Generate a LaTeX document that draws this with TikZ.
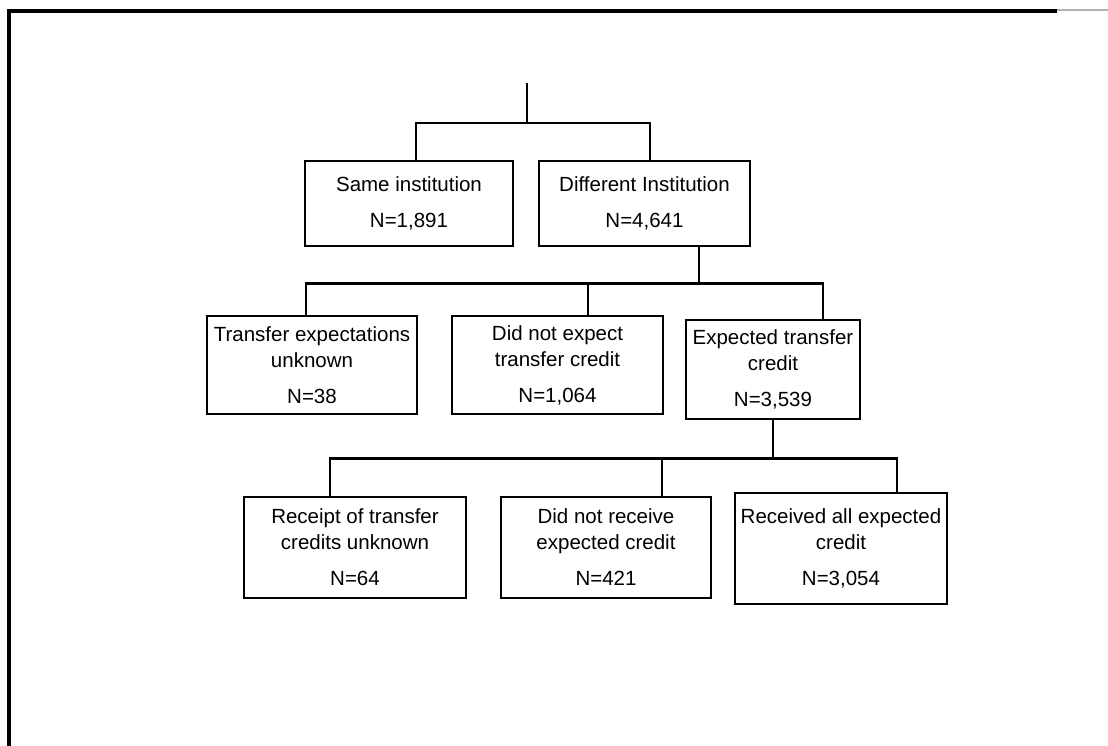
\documentclass[tikz,border=0pt]{standalone}
\usepackage{fontspec}
\setmainfont{Liberation Sans}
\begin{document}
\begin{tikzpicture}[x=1pt,y=-1pt,line width=2.8pt,
        box/.style={draw,align=center,inner sep=0pt,font=\fontsize{20.5}{26}\selectfont}]
        \useasboundingbox (0,0) rectangle (1108,746);
        \draw[line width=3.5pt] (1057,11) -- (9,11) -- (9,746);
        \draw[gray!60,line width=1.5pt] (1057,10) -- (1108,10);
        \node[box,minimum width=208,minimum height=85] (same) at (409,203.5) {Same institution\\[10pt]N=1,891};
        \node[box,minimum width=211,minimum height=85] (diff) at (644.5,203.5) {Different Institution\\[10pt]N=4,641};
        \node[box,minimum width=210,minimum height=98] (unk) at (312,365) {Transfer expectations\\unknown\\[10pt]N=38};
        \node[box,minimum width=211,minimum height=98] (noexp) at (557.5,365) {Did not expect\\transfer credit\\[10pt]N=1,064};
        \node[box,minimum width=174,minimum height=99] (exp) at (773,369.5) {Expected transfer\\credit\\[10pt]N=3,539};
        \node[box,minimum width=222,minimum height=101] (recunk) at (355,547.5) {Receipt of transfer\\credits unknown\\[10pt]N=64};
        \node[box,minimum width=210,minimum height=101] (norec) at (606,547.5) {Did not receive\\expected credit\\[10pt]N=421};
        \node[box,minimum width=212,minimum height=111] (recall) at (841,548.5) {Received all expected\\credit\\[10pt]N=3,054};
        \coordinate (top) at (527,83);
        \draw (top) -- ++(0,40) coordinate (j1);
        \draw ([xshift=7]same.north) |- (j1) -| ([xshift=5.5]diff.north);
        \draw ([xshift=54.5]diff.south) -- ++(0,36) coordinate (j2);
        \draw ([xshift=-6]unk.north) |- (j2) -| ([xshift=50]exp.north);
        \coordinate (noexpin) at ([xshift=30.5]noexp.north);
        \draw (noexpin) -- (noexpin |- j2);
        \draw (exp.south) -- ++(0,38) coordinate (j3);
        \draw ([xshift=-25]recunk.north) |- (j3) -| ([xshift=56]recall.north);
        \coordinate (norecin) at ([xshift=56]norec.north);
        \draw (norecin) -- (norecin |- j3);
\end{tikzpicture}
\end{document}
